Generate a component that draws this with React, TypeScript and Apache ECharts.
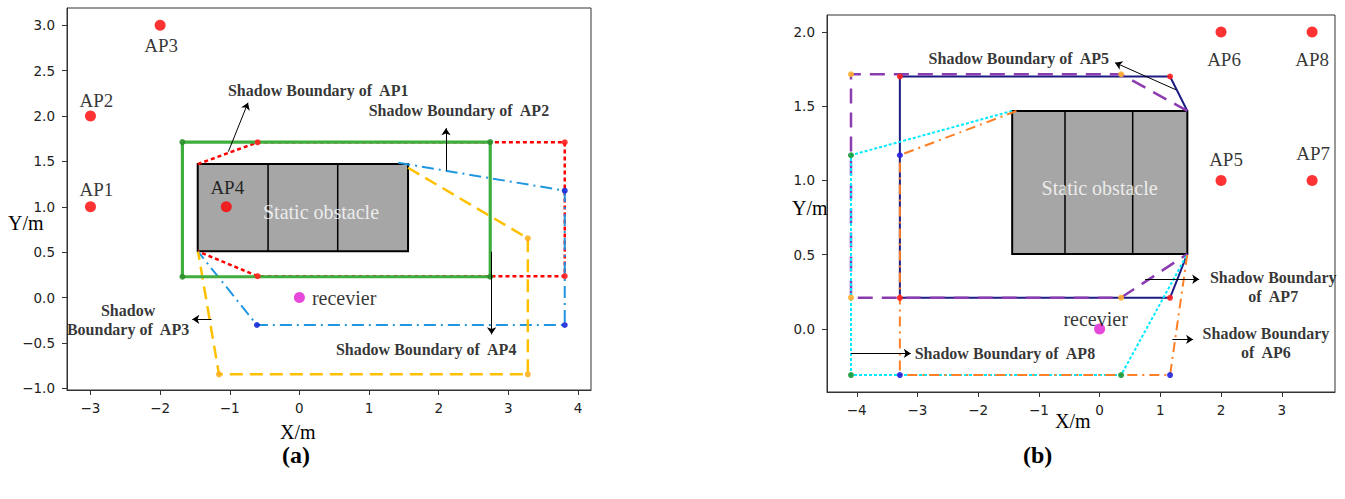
import React, { useEffect, useRef } from 'react';
import * as echarts from 'echarts';

// ---------- Panel (a) data ----------
const xTicksA = [-3, -2, -1, 0, 1, 2, 3, 4];
const yTicksA = [-1.0, -0.5, 0.0, 0.5, 1.0, 1.5, 2.0, 2.5, 3.0];
const apPointsA: [number, number, string][] = [
  [-3, 1, 'AP1'],
  [-3, 2, 'AP2'],
  [-2, 3, 'AP3'],
  [-1.05, 1.0, 'AP4'],
];
const receiverA = [0, 0];
const obstacleA = [-1.46, 1.56, 0.51, 1.47]; // x0, x1, y0, y1
const dividersA = [-0.45, 0.55];
const obstacleLabelA = [0.31, 0.945];
const shadowAP1 = [[-1.46, 1.47], [-0.6, 1.71], [3.81, 1.71], [3.81, 0.235], [-0.6, 0.235], [-1.46, 0.51]];
const shadowAP2 = [[1.42, 1.485], [3.81, 1.177], [3.81, -0.303], [-0.61, -0.303], [-1.455, 0.505]];
const shadowAP3 = [[1.56, 1.43], [3.28, 0.652], [3.28, -0.846], [-1.155, -0.846], [-1.455, 0.505]];
const shadowAP4 = [[-1.68, 1.713], [2.74, 1.713], [2.74, 0.229], [-1.68, 0.229], [-1.68, 1.713]];
const arrowsA = [
  [[-1.02, 1.607], [-0.738, 2.147]],
  [[2.105, 1.40], [2.105, 1.865]],
  [[2.76, 0.505], [2.76, -0.406]],
  [[-1.262, -0.24], [-1.538, -0.24]],
];
const notesA: [number, number, string][] = [
  [0.27, 2.28, 'Shadow Boundary of  AP1'],
  [2.29, 2.066, 'Shadow Boundary of  AP2'],
  [-2.46, -0.248, 'Shadow\nBoundary of  AP3'],
  [1.82, -0.571, 'Shadow Boundary of  AP4'],
];

// ---------- Panel (b) data ----------
const xTicksB = [-4, -3, -2, -1, 0, 1, 2, 3];
const yTicksB = [0.0, 0.5, 1.0, 1.5, 2.0];
const apPointsB: [number, number, string][] = [
  [2, 1, 'AP5'],
  [2, 2, 'AP6'],
  [3.5, 1, 'AP7'],
  [3.5, 2, 'AP8'],
];
const receiverB = [0, 0];
const obstacleB = [-1.44, 1.445, 0.505, 1.468];
const dividersB = [-0.57, 0.545];
const obstacleLabelB = [0.0, 0.95];
const shadowAP5 = [[1.445, 1.468], [1.16, 1.70], [-3.29, 1.70], [-3.29, 0.21], [1.16, 0.21], [1.445, 0.505]];
const shadowAP7 = [[1.445, 1.468], [0.354, 1.715], [-4.095, 1.715], [-4.095, 0.211], [0.354, 0.211], [1.445, 0.505]];
const shadowAP8 = [[-1.44, 1.468], [-4.095, 1.17], [-4.095, -0.31], [0.354, -0.31], [1.445, 0.505]];
const shadowAP6 = [[-1.37, 1.468], [-3.29, 1.17], [-3.29, -0.31], [1.16, -0.31], [1.445, 0.505]];
const arrowsB = [
  [[1.26, 1.61], [0.255, 1.793]],
  [[0.75, 0.335], [1.64, 0.335]],
  [[1.2, -0.07], [1.54, -0.07]],
  [[-4.095, -0.164], [-3.11, -0.164]],
];
const notesB: [number, number, string][] = [
  [-1.33, 1.823, 'Shadow Boundary of  AP5'],
  [2.86, 0.285, 'Shadow Boundary\nof  AP7'],
  [2.74, -0.091, 'Shadow Boundary\nof  AP6'],
  [-1.56, -0.164, 'Shadow Boundary of  AP8'],
];

// ---------- styles ----------
const labelOffsets: Record<string, number[]> = {
  AP1: [6, -17], AP2: [6, -16], AP3: [1, 20], AP4: [1, -19],
  AP5: [5, -21], AP6: [3, 28], AP7: [1, -27], AP8: [0, 28],
};
const SERIF = '"Liberation Serif", "Times New Roman", serif';
const SANS = '"DejaVu Sans", sans-serif';

const minus = (s: string) => s.replace('-', '\u2212');

function makeAxes(gi: number, min: number, max: number, ticks: number[], isX: boolean) {
  return {
    gridIndex: gi,
    type: 'value',
    min,
    max,
    splitLine: { show: false },
    axisLine: { show: true, onZero: false, lineStyle: { color: '#333', width: 1 } },
    axisTick: { show: true, length: 5, customValues: ticks, lineStyle: { color: '#333' } },
    axisLabel: {
      customValues: ticks,
      fontFamily: SANS,
      fontSize: 13.5,
      color: '#222',
      margin: isX ? 11 : 12,
      formatter: (v: number) => (isX ? minus(String(Math.round(v))) : minus(v.toFixed(1))),
    },
  };
}

function obstacleSeries(idx: number, obs: number[], z: number) {
  return {
    type: 'custom',
    xAxisIndex: idx,
    yAxisIndex: idx,
    z,
    silent: true,
    data: [obs],
    encode: { x: [0, 1], y: [2, 3] },
    renderItem: (params: any, api: any) => {
      const p0 = api.coord([api.value(0), api.value(3)]);
      const p1 = api.coord([api.value(1), api.value(2)]);
      return {
        type: 'rect',
        shape: { x: p0[0], y: p0[1], width: p1[0] - p0[0], height: p1[1] - p0[1] },
        style: { fill: '#a6a6a6', stroke: '#000', lineWidth: 2 },
      };
    },
  };
}

function dividerSeries(idx: number, divs: number[], obs: number[], z: number) {
  return {
    type: 'custom',
    xAxisIndex: idx,
    yAxisIndex: idx,
    z,
    silent: true,
    data: divs.map((x) => [x, obs[2], obs[3]]),
    encode: { x: 0, y: [1, 2] },
    renderItem: (params: any, api: any) => {
      const a = api.coord([api.value(0), api.value(1)]);
      const b = api.coord([api.value(0), api.value(2)]);
      return {
        type: 'line',
        shape: { x1: a[0], y1: a[1], x2: b[0], y2: b[1] },
        style: { stroke: '#000', lineWidth: 1.5 },
      };
    },
  };
}

function lineSeries(idx: number, data: number[][], color: string, width: number, type: any, z: number) {
  return {
    type: 'line',
    xAxisIndex: idx,
    yAxisIndex: idx,
    data,
    symbol: 'none',
    showSymbol: false,
    silent: true,
    z,
    lineStyle: { color, width, type, cap: 'butt' },
  };
}

function dotSeries(idx: number, data: number[][], color: string, size: number, z: number) {
  return {
    type: 'scatter',
    xAxisIndex: idx,
    yAxisIndex: idx,
    data,
    symbolSize: size,
    silent: true,
    z,
    itemStyle: { color, opacity: 0.9 },
  };
}

function apSeries(idx: number, pts: [number, number, string][]) {
  return {
    type: 'scatter',
    xAxisIndex: idx,
    yAxisIndex: idx,
    z: 10,
    silent: true,
    symbolSize: 11,
    itemStyle: { color: '#ff0000' },
    data: pts.map((p) => ({
      value: [p[0], p[1]],
      label: { formatter: p[2], offset: labelOffsets[p[2]] },
    })),
    label: { show: true, position: 'inside', fontFamily: SERIF, fontSize: 19, color: '#000' },
  };
}

function receiverSeries(idx: number, pt: number[], label: any) {
  return {
    type: 'scatter',
    xAxisIndex: idx,
    yAxisIndex: idx,
    z: 10,
    silent: true,
    symbolSize: 11,
    itemStyle: { color: '#e01ad0' },
    data: [pt],
    label: { show: true, formatter: 'recevier', fontFamily: SERIF, fontSize: 20, color: '#000', ...label },
  };
}

function textSeries(idx: number, items: [number, number, string][], style: any) {
  return {
    type: 'scatter',
    xAxisIndex: idx,
    yAxisIndex: idx,
    z: 12,
    silent: true,
    symbolSize: 1,
    itemStyle: { color: 'rgba(0,0,0,0)' },
    data: items.map((t) => ({ value: [t[0], t[1]], label: { formatter: t[2] } })),
    label: { show: true, position: 'inside', ...style },
  };
}

function arrowSeries(idx: number, arrows: number[][][]) {
  return {
    type: 'lines',
    coordinateSystem: 'cartesian2d',
    xAxisIndex: idx,
    yAxisIndex: idx,
    z: 11,
    silent: true,
    symbol: ['none', 'arrow'],
    symbolSize: 7,
    data: arrows.map((c) => ({ coords: c })),
    lineStyle: { color: '#000', width: 1, curveness: 0, opacity: 1 },
  };
}

const noteStyle = { fontFamily: SERIF, fontWeight: 'bold', fontSize: 16, color: '#000', lineHeight: 19, align: 'center' };
const obstacleTextStyle = { fontFamily: SERIF, fontSize: 20, color: '#ffffff' };

export default function App() {
  const ref = useRef<HTMLDivElement>(null);
  useEffect(() => {
    if (!ref.current) return;
    const chart = echarts.init(ref.current, undefined, { renderer: 'svg' });
    const option: any = {
      animation: false,
      backgroundColor: '#ffffff',
      grid: [
        { left: 67, top: 8, width: 524, height: 382, show: true, borderColor: '#333', borderWidth: 1, containLabel: false },
        { left: 827, top: 15, width: 508, height: 377, show: true, borderColor: '#333', borderWidth: 1, containLabel: false },
      ],
      xAxis: [makeAxes(0, -3.337, 4.187, xTicksA, true), makeAxes(1, -4.49, 3.877, xTicksB, true)],
      yAxis: [makeAxes(0, -1.019, 3.19, yTicksA, false), makeAxes(1, -0.424, 2.114, yTicksB, false)],
      graphic: [
        { type: 'text', left: 8, top: 213, style: { text: 'Y/m', font: `20px ${SERIF}`, fill: '#000' } },
        { type: 'text', left: 280, top: 422, style: { text: 'X/m', font: `20px ${SERIF}`, fill: '#000' } },
        { type: 'text', left: 792, top: 198, style: { text: 'Y/m', font: `20px ${SERIF}`, fill: '#000' } },
        { type: 'text', left: 1055, top: 411, style: { text: 'X/m', font: `20px ${SERIF}`, fill: '#000' } },
        { type: 'text', left: 282, top: 443, style: { text: '(a)', font: `bold 24px ${SERIF}`, fill: '#000' } },
        { type: 'text', left: 1023, top: 443, style: { text: '(b)', font: `bold 24px ${SERIF}`, fill: '#000' } },
      ],
      series: [
        // panel (a)
        obstacleSeries(0, obstacleA, 1),
        dividerSeries(0, dividersA, obstacleA, 1),
        lineSeries(0, shadowAP1, '#ff0000', 2.5, [4, 3], 3),
        lineSeries(0, shadowAP2, '#2196e0', 2, [12, 5, 2, 5], 3),
        lineSeries(0, shadowAP3, '#ffc000', 2.5, [13, 7], 3),
        lineSeries(0, shadowAP4, '#3fae3f', 3.2, 'solid', 4),
        dotSeries(0, shadowAP1.slice(1, 5), '#ff2020', 6, 6),
        dotSeries(0, shadowAP2.slice(1, 4), '#1a2ad8', 6, 6),
        dotSeries(0, shadowAP3.slice(1, 4), '#ffb020', 6, 6),
        dotSeries(0, shadowAP4.slice(0, 4), '#2e8f2e', 6, 6),
        apSeries(0, apPointsA),
        receiverSeries(0, receiverA, { position: 'right', distance: 7 }),
        textSeries(0, [[obstacleLabelA[0], obstacleLabelA[1], 'Static obstacle']], obstacleTextStyle),
        textSeries(0, notesA, noteStyle),
        arrowSeries(0, arrowsA),
        // panel (b)
        obstacleSeries(1, obstacleB, 1),
        dividerSeries(1, dividersB, obstacleB, 1),
        lineSeries(1, shadowAP5, '#1c1c82', 2, 'solid', 3),
        lineSeries(1, shadowAP7, '#8a3cb0', 2.5, [15, 9], 4),
        lineSeries(1, shadowAP8, '#00eaff', 2, [3, 2], 5),
        lineSeries(1, shadowAP6, '#ff7f27', 2, [10, 5, 2, 5], 5),
        dotSeries(1, shadowAP7.slice(1, 5), '#ffb030', 6, 7),
        dotSeries(1, shadowAP5.slice(1, 5), '#ff2020', 6, 7),
        dotSeries(1, shadowAP8.slice(1, 4), '#169a3a', 6, 7),
        dotSeries(1, shadowAP6.slice(1, 4), '#2020e0', 6, 7),
        apSeries(1, apPointsB),
        receiverSeries(1, receiverB, { position: 'inside', offset: [-4, -10] }),
        textSeries(1, [[obstacleLabelB[0], obstacleLabelB[1], 'Static obstacle']], obstacleTextStyle),
        textSeries(1, notesB, noteStyle),
        arrowSeries(1, arrowsB),
      ],
    };
    chart.setOption(option);
    return () => chart.dispose();
  }, []);
  return (
    <div
      ref={ref}
      style={{ position: 'absolute', left: 0, top: 0, width: 1345, height: 499, background: '#fff' }}
    />
  );
}
